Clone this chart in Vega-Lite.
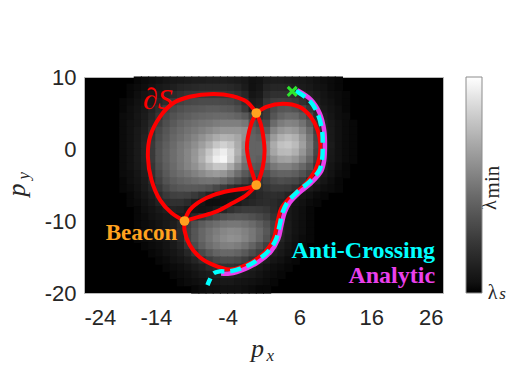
{
"$schema": "https://vega.github.io/schema/vega-lite/v6.json",
"width": 359, "height": 216,
"autosize": {"type": "none"},
"padding": {"left": 84, "top": 77, "right": 72, "bottom": 94},
"background": "white",
"config": {
  "view": {"fill": "black", "stroke": "#b8b8b8", "strokeWidth": 1},
  "axis": {"labelFont": "Liberation Sans", "labelFontSize": 22, "labelColor": "#262626", "domain": false, "ticks": false, "grid": false, "title": null}
},
"datasets": {
  "heat": [
{"x":-16.5,"y":9.5,"v":0.02},{"x":-15.5,"y":9.5,"v":0.03},{"x":-14.5,"y":9.5,"v":0.04},{"x":-13.5,"y":9.5,"v":0.05},{"x":-12.5,"y":9.5,"v":0.07},{"x":-11.5,"y":9.5,"v":0.08},{"x":-10.5,"y":9.5,"v":0.09},{"x":-9.5,"y":9.5,"v":0.1},{"x":-8.5,"y":9.5,"v":0.11},{"x":-7.5,"y":9.5,"v":0.11},{"x":-6.5,"y":9.5,"v":0.12},{"x":-5.5,"y":9.5,"v":0.12},{"x":-4.5,"y":9.5,"v":0.12},{"x":-3.5,"y":9.5,"v":0.11},{"x":-2.5,"y":9.5,"v":0.1},{"x":-1.5,"y":9.5,"v":0.08},{"x":-0.5,"y":9.5,"v":0.05},{"x":0.5,"y":9.5,"v":0.06},{"x":1.5,"y":9.5,"v":0.1},{"x":2.5,"y":9.5,"v":0.11},{"x":3.5,"y":9.5,"v":0.11},{"x":4.5,"y":9.5,"v":0.1},{"x":5.5,"y":9.5,"v":0.09},{"x":6.5,"y":9.5,"v":0.08},{"x":7.5,"y":9.5,"v":0.07},{"x":8.5,"y":9.5,"v":0.05},{"x":9.5,"y":9.5,"v":0.04},{"x":10.5,"y":9.5,"v":0.03},{"x":11.5,"y":9.5,"v":0.02},
{"x":-17.5,"y":8.5,"v":0.02},{"x":-16.5,"y":8.5,"v":0.03},{"x":-15.5,"y":8.5,"v":0.04},{"x":-14.5,"y":8.5,"v":0.06},{"x":-13.5,"y":8.5,"v":0.08},{"x":-12.5,"y":8.5,"v":0.1},{"x":-11.5,"y":8.5,"v":0.12},{"x":-10.5,"y":8.5,"v":0.14},{"x":-9.5,"y":8.5,"v":0.15},{"x":-8.5,"y":8.5,"v":0.16},{"x":-7.5,"y":8.5,"v":0.17},{"x":-6.5,"y":8.5,"v":0.17},{"x":-5.5,"y":8.5,"v":0.17},{"x":-4.5,"y":8.5,"v":0.17},{"x":-3.5,"y":8.5,"v":0.16},{"x":-2.5,"y":8.5,"v":0.14},{"x":-1.5,"y":8.5,"v":0.1},{"x":-0.5,"y":8.5,"v":0.05},{"x":0.5,"y":8.5,"v":0.07},{"x":1.5,"y":8.5,"v":0.13},{"x":2.5,"y":8.5,"v":0.15},{"x":3.5,"y":8.5,"v":0.15},{"x":4.5,"y":8.5,"v":0.14},{"x":5.5,"y":8.5,"v":0.12},{"x":6.5,"y":8.5,"v":0.1},{"x":7.5,"y":8.5,"v":0.08},{"x":8.5,"y":8.5,"v":0.06},{"x":9.5,"y":8.5,"v":0.05},{"x":10.5,"y":8.5,"v":0.03},{"x":11.5,"y":8.5,"v":0.02},
{"x":-17.5,"y":7.5,"v":0.02},{"x":-16.5,"y":7.5,"v":0.04},{"x":-15.5,"y":7.5,"v":0.06},{"x":-14.5,"y":7.5,"v":0.08},{"x":-13.5,"y":7.5,"v":0.11},{"x":-12.5,"y":7.5,"v":0.14},{"x":-11.5,"y":7.5,"v":0.17},{"x":-10.5,"y":7.5,"v":0.2},{"x":-9.5,"y":7.5,"v":0.22},{"x":-8.5,"y":7.5,"v":0.23},{"x":-7.5,"y":7.5,"v":0.24},{"x":-6.5,"y":7.5,"v":0.24},{"x":-5.5,"y":7.5,"v":0.24},{"x":-4.5,"y":7.5,"v":0.23},{"x":-3.5,"y":7.5,"v":0.22},{"x":-2.5,"y":7.5,"v":0.2},{"x":-1.5,"y":7.5,"v":0.15},{"x":-0.5,"y":7.5,"v":0.07},{"x":0.5,"y":7.5,"v":0.09},{"x":1.5,"y":7.5,"v":0.17},{"x":2.5,"y":7.5,"v":0.2},{"x":3.5,"y":7.5,"v":0.2},{"x":4.5,"y":7.5,"v":0.2},{"x":5.5,"y":7.5,"v":0.18},{"x":6.5,"y":7.5,"v":0.15},{"x":7.5,"y":7.5,"v":0.12},{"x":8.5,"y":7.5,"v":0.09},{"x":9.5,"y":7.5,"v":0.06},{"x":10.5,"y":7.5,"v":0.04},{"x":11.5,"y":7.5,"v":0.03},{"x":12.5,"y":7.5,"v":0.02},
{"x":-18.5,"y":6.5,"v":0.02},{"x":-17.5,"y":6.5,"v":0.03},{"x":-16.5,"y":6.5,"v":0.05},{"x":-15.5,"y":6.5,"v":0.07},{"x":-14.5,"y":6.5,"v":0.1},{"x":-13.5,"y":6.5,"v":0.14},{"x":-12.5,"y":6.5,"v":0.18},{"x":-11.5,"y":6.5,"v":0.24},{"x":-10.5,"y":6.5,"v":0.28},{"x":-9.5,"y":6.5,"v":0.3},{"x":-8.5,"y":6.5,"v":0.31},{"x":-7.5,"y":6.5,"v":0.32},{"x":-6.5,"y":6.5,"v":0.32},{"x":-5.5,"y":6.5,"v":0.32},{"x":-4.5,"y":6.5,"v":0.31},{"x":-3.5,"y":6.5,"v":0.3},{"x":-2.5,"y":6.5,"v":0.27},{"x":-1.5,"y":6.5,"v":0.2},{"x":-0.5,"y":6.5,"v":0.1},{"x":0.5,"y":6.5,"v":0.12},{"x":1.5,"y":6.5,"v":0.22},{"x":2.5,"y":6.5,"v":0.26},{"x":3.5,"y":6.5,"v":0.27},{"x":4.5,"y":6.5,"v":0.26},{"x":5.5,"y":6.5,"v":0.24},{"x":6.5,"y":6.5,"v":0.2},{"x":7.5,"y":6.5,"v":0.15},{"x":8.5,"y":6.5,"v":0.11},{"x":9.5,"y":6.5,"v":0.07},{"x":10.5,"y":6.5,"v":0.05},{"x":11.5,"y":6.5,"v":0.03},{"x":12.5,"y":6.5,"v":0.02},
{"x":-18.5,"y":5.5,"v":0.02},{"x":-17.5,"y":5.5,"v":0.04},{"x":-16.5,"y":5.5,"v":0.06},{"x":-15.5,"y":5.5,"v":0.09},{"x":-14.5,"y":5.5,"v":0.13},{"x":-13.5,"y":5.5,"v":0.19},{"x":-12.5,"y":5.5,"v":0.27},{"x":-11.5,"y":5.5,"v":0.31},{"x":-10.5,"y":5.5,"v":0.34},{"x":-9.5,"y":5.5,"v":0.36},{"x":-8.5,"y":5.5,"v":0.37},{"x":-7.5,"y":5.5,"v":0.38},{"x":-6.5,"y":5.5,"v":0.39},{"x":-5.5,"y":5.5,"v":0.39},{"x":-4.5,"y":5.5,"v":0.38},{"x":-3.5,"y":5.5,"v":0.37},{"x":-2.5,"y":5.5,"v":0.33},{"x":-1.5,"y":5.5,"v":0.25},{"x":-0.5,"y":5.5,"v":0.12},{"x":0.5,"y":5.5,"v":0.14},{"x":1.5,"y":5.5,"v":0.24},{"x":2.5,"y":5.5,"v":0.32},{"x":3.5,"y":5.5,"v":0.36},{"x":4.5,"y":5.5,"v":0.37},{"x":5.5,"y":5.5,"v":0.35},{"x":6.5,"y":5.5,"v":0.3},{"x":7.5,"y":5.5,"v":0.22},{"x":8.5,"y":5.5,"v":0.14},{"x":9.5,"y":5.5,"v":0.09},{"x":10.5,"y":5.5,"v":0.06},{"x":11.5,"y":5.5,"v":0.04},{"x":12.5,"y":5.5,"v":0.02},
{"x":-18.5,"y":4.5,"v":0.03},{"x":-17.5,"y":4.5,"v":0.04},{"x":-16.5,"y":4.5,"v":0.07},{"x":-15.5,"y":4.5,"v":0.1},{"x":-14.5,"y":4.5,"v":0.15},{"x":-13.5,"y":4.5,"v":0.22},{"x":-12.5,"y":4.5,"v":0.3},{"x":-11.5,"y":4.5,"v":0.35},{"x":-10.5,"y":4.5,"v":0.38},{"x":-9.5,"y":4.5,"v":0.4},{"x":-8.5,"y":4.5,"v":0.42},{"x":-7.5,"y":4.5,"v":0.43},{"x":-6.5,"y":4.5,"v":0.44},{"x":-5.5,"y":4.5,"v":0.45},{"x":-4.5,"y":4.5,"v":0.45},{"x":-3.5,"y":4.5,"v":0.44},{"x":-2.5,"y":4.5,"v":0.42},{"x":-1.5,"y":4.5,"v":0.38},{"x":-0.5,"y":4.5,"v":0.28},{"x":0.5,"y":4.5,"v":0.2},{"x":1.5,"y":4.5,"v":0.25},{"x":2.5,"y":4.5,"v":0.36},{"x":3.5,"y":4.5,"v":0.42},{"x":4.5,"y":4.5,"v":0.45},{"x":5.5,"y":4.5,"v":0.44},{"x":6.5,"y":4.5,"v":0.38},{"x":7.5,"y":4.5,"v":0.3},{"x":8.5,"y":4.5,"v":0.18},{"x":9.5,"y":4.5,"v":0.11},{"x":10.5,"y":4.5,"v":0.07},{"x":11.5,"y":4.5,"v":0.04},{"x":12.5,"y":4.5,"v":0.03},
{"x":-18.5,"y":3.5,"v":0.03},{"x":-17.5,"y":3.5,"v":0.05},{"x":-16.5,"y":3.5,"v":0.07},{"x":-15.5,"y":3.5,"v":0.11},{"x":-14.5,"y":3.5,"v":0.17},{"x":-13.5,"y":3.5,"v":0.26},{"x":-12.5,"y":3.5,"v":0.33},{"x":-11.5,"y":3.5,"v":0.38},{"x":-10.5,"y":3.5,"v":0.42},{"x":-9.5,"y":3.5,"v":0.45},{"x":-8.5,"y":3.5,"v":0.47},{"x":-7.5,"y":3.5,"v":0.49},{"x":-6.5,"y":3.5,"v":0.5},{"x":-5.5,"y":3.5,"v":0.52},{"x":-4.5,"y":3.5,"v":0.53},{"x":-3.5,"y":3.5,"v":0.53},{"x":-2.5,"y":3.5,"v":0.53},{"x":-1.5,"y":3.5,"v":0.5},{"x":-0.5,"y":3.5,"v":0.35},{"x":0.5,"y":3.5,"v":0.3},{"x":1.5,"y":3.5,"v":0.32},{"x":2.5,"y":3.5,"v":0.45},{"x":3.5,"y":3.5,"v":0.52},{"x":4.5,"y":3.5,"v":0.55},{"x":5.5,"y":3.5,"v":0.54},{"x":6.5,"y":3.5,"v":0.48},{"x":7.5,"y":3.5,"v":0.38},{"x":8.5,"y":3.5,"v":0.22},{"x":9.5,"y":3.5,"v":0.13},{"x":10.5,"y":3.5,"v":0.08},{"x":11.5,"y":3.5,"v":0.05},{"x":12.5,"y":3.5,"v":0.03},{"x":13.5,"y":3.5,"v":0.02},
{"x":-18.5,"y":2.5,"v":0.03},{"x":-17.5,"y":2.5,"v":0.05},{"x":-16.5,"y":2.5,"v":0.08},{"x":-15.5,"y":2.5,"v":0.12},{"x":-14.5,"y":2.5,"v":0.2},{"x":-13.5,"y":2.5,"v":0.3},{"x":-12.5,"y":2.5,"v":0.36},{"x":-11.5,"y":2.5,"v":0.41},{"x":-10.5,"y":2.5,"v":0.45},{"x":-9.5,"y":2.5,"v":0.48},{"x":-8.5,"y":2.5,"v":0.51},{"x":-7.5,"y":2.5,"v":0.54},{"x":-6.5,"y":2.5,"v":0.57},{"x":-5.5,"y":2.5,"v":0.6},{"x":-4.5,"y":2.5,"v":0.62},{"x":-3.5,"y":2.5,"v":0.62},{"x":-2.5,"y":2.5,"v":0.62},{"x":-1.5,"y":2.5,"v":0.6},{"x":-0.5,"y":2.5,"v":0.4},{"x":0.5,"y":2.5,"v":0.36},{"x":1.5,"y":2.5,"v":0.4},{"x":2.5,"y":2.5,"v":0.55},{"x":3.5,"y":2.5,"v":0.62},{"x":4.5,"y":2.5,"v":0.65},{"x":5.5,"y":2.5,"v":0.63},{"x":6.5,"y":2.5,"v":0.56},{"x":7.5,"y":2.5,"v":0.45},{"x":8.5,"y":2.5,"v":0.27},{"x":9.5,"y":2.5,"v":0.15},{"x":10.5,"y":2.5,"v":0.09},{"x":11.5,"y":2.5,"v":0.05},{"x":12.5,"y":2.5,"v":0.03},{"x":13.5,"y":2.5,"v":0.02},
{"x":-18.5,"y":1.5,"v":0.03},{"x":-17.5,"y":1.5,"v":0.05},{"x":-16.5,"y":1.5,"v":0.08},{"x":-15.5,"y":1.5,"v":0.13},{"x":-14.5,"y":1.5,"v":0.22},{"x":-13.5,"y":1.5,"v":0.32},{"x":-12.5,"y":1.5,"v":0.38},{"x":-11.5,"y":1.5,"v":0.43},{"x":-10.5,"y":1.5,"v":0.47},{"x":-9.5,"y":1.5,"v":0.51},{"x":-8.5,"y":1.5,"v":0.55},{"x":-7.5,"y":1.5,"v":0.6},{"x":-6.5,"y":1.5,"v":0.65},{"x":-5.5,"y":1.5,"v":0.7},{"x":-4.5,"y":1.5,"v":0.73},{"x":-3.5,"y":1.5,"v":0.72},{"x":-2.5,"y":1.5,"v":0.68},{"x":-1.5,"y":1.5,"v":0.6},{"x":-0.5,"y":1.5,"v":0.42},{"x":0.5,"y":1.5,"v":0.4},{"x":1.5,"y":1.5,"v":0.5},{"x":2.5,"y":1.5,"v":0.64},{"x":3.5,"y":1.5,"v":0.72},{"x":4.5,"y":1.5,"v":0.75},{"x":5.5,"y":1.5,"v":0.72},{"x":6.5,"y":1.5,"v":0.63},{"x":7.5,"y":1.5,"v":0.5},{"x":8.5,"y":1.5,"v":0.3},{"x":9.5,"y":1.5,"v":0.16},{"x":10.5,"y":1.5,"v":0.09},{"x":11.5,"y":1.5,"v":0.05},{"x":12.5,"y":1.5,"v":0.03},{"x":13.5,"y":1.5,"v":0.02},
{"x":-18.5,"y":0.5,"v":0.03},{"x":-17.5,"y":0.5,"v":0.05},{"x":-16.5,"y":0.5,"v":0.09},{"x":-15.5,"y":0.5,"v":0.14},{"x":-14.5,"y":0.5,"v":0.24},{"x":-13.5,"y":0.5,"v":0.34},{"x":-12.5,"y":0.5,"v":0.4},{"x":-11.5,"y":0.5,"v":0.45},{"x":-10.5,"y":0.5,"v":0.5},{"x":-9.5,"y":0.5,"v":0.54},{"x":-8.5,"y":0.5,"v":0.59},{"x":-7.5,"y":0.5,"v":0.65},{"x":-6.5,"y":0.5,"v":0.72},{"x":-5.5,"y":0.5,"v":0.8},{"x":-4.5,"y":0.5,"v":0.84},{"x":-3.5,"y":0.5,"v":0.8},{"x":-2.5,"y":0.5,"v":0.7},{"x":-1.5,"y":0.5,"v":0.58},{"x":-0.5,"y":0.5,"v":0.42},{"x":0.5,"y":0.5,"v":0.42},{"x":1.5,"y":0.5,"v":0.55},{"x":2.5,"y":0.5,"v":0.7},{"x":3.5,"y":0.5,"v":0.78},{"x":4.5,"y":0.5,"v":0.8},{"x":5.5,"y":0.5,"v":0.76},{"x":6.5,"y":0.5,"v":0.66},{"x":7.5,"y":0.5,"v":0.52},{"x":8.5,"y":0.5,"v":0.32},{"x":9.5,"y":0.5,"v":0.17},{"x":10.5,"y":0.5,"v":0.1},{"x":11.5,"y":0.5,"v":0.05},{"x":12.5,"y":0.5,"v":0.03},{"x":13.5,"y":0.5,"v":0.02},
{"x":-18.5,"y":-0.5,"v":0.03},{"x":-17.5,"y":-0.5,"v":0.05},{"x":-16.5,"y":-0.5,"v":0.09},{"x":-15.5,"y":-0.5,"v":0.14},{"x":-14.5,"y":-0.5,"v":0.24},{"x":-13.5,"y":-0.5,"v":0.35},{"x":-12.5,"y":-0.5,"v":0.41},{"x":-11.5,"y":-0.5,"v":0.46},{"x":-10.5,"y":-0.5,"v":0.51},{"x":-9.5,"y":-0.5,"v":0.56},{"x":-8.5,"y":-0.5,"v":0.62},{"x":-7.5,"y":-0.5,"v":0.7},{"x":-6.5,"y":-0.5,"v":0.8},{"x":-5.5,"y":-0.5,"v":0.9},{"x":-4.5,"y":-0.5,"v":0.94},{"x":-3.5,"y":-0.5,"v":0.86},{"x":-2.5,"y":-0.5,"v":0.72},{"x":-1.5,"y":-0.5,"v":0.56},{"x":-0.5,"y":-0.5,"v":0.42},{"x":0.5,"y":-0.5,"v":0.42},{"x":1.5,"y":-0.5,"v":0.55},{"x":2.5,"y":-0.5,"v":0.68},{"x":3.5,"y":-0.5,"v":0.75},{"x":4.5,"y":-0.5,"v":0.76},{"x":5.5,"y":-0.5,"v":0.72},{"x":6.5,"y":-0.5,"v":0.62},{"x":7.5,"y":-0.5,"v":0.5},{"x":8.5,"y":-0.5,"v":0.3},{"x":9.5,"y":-0.5,"v":0.16},{"x":10.5,"y":-0.5,"v":0.09},{"x":11.5,"y":-0.5,"v":0.05},{"x":12.5,"y":-0.5,"v":0.03},{"x":13.5,"y":-0.5,"v":0.02},
{"x":-18.5,"y":-1.5,"v":0.03},{"x":-17.5,"y":-1.5,"v":0.05},{"x":-16.5,"y":-1.5,"v":0.09},{"x":-15.5,"y":-1.5,"v":0.14},{"x":-14.5,"y":-1.5,"v":0.24},{"x":-13.5,"y":-1.5,"v":0.35},{"x":-12.5,"y":-1.5,"v":0.41},{"x":-11.5,"y":-1.5,"v":0.46},{"x":-10.5,"y":-1.5,"v":0.51},{"x":-9.5,"y":-1.5,"v":0.56},{"x":-8.5,"y":-1.5,"v":0.63},{"x":-7.5,"y":-1.5,"v":0.72},{"x":-6.5,"y":-1.5,"v":0.83},{"x":-5.5,"y":-1.5,"v":0.94},{"x":-4.5,"y":-1.5,"v":0.97},{"x":-3.5,"y":-1.5,"v":0.85},{"x":-2.5,"y":-1.5,"v":0.68},{"x":-1.5,"y":-1.5,"v":0.52},{"x":-0.5,"y":-1.5,"v":0.42},{"x":0.5,"y":-1.5,"v":0.4},{"x":1.5,"y":-1.5,"v":0.5},{"x":2.5,"y":-1.5,"v":0.6},{"x":3.5,"y":-1.5,"v":0.66},{"x":4.5,"y":-1.5,"v":0.67},{"x":5.5,"y":-1.5,"v":0.63},{"x":6.5,"y":-1.5,"v":0.55},{"x":7.5,"y":-1.5,"v":0.44},{"x":8.5,"y":-1.5,"v":0.27},{"x":9.5,"y":-1.5,"v":0.14},{"x":10.5,"y":-1.5,"v":0.08},{"x":11.5,"y":-1.5,"v":0.05},{"x":12.5,"y":-1.5,"v":0.03},{"x":13.5,"y":-1.5,"v":0.02},
{"x":-18.5,"y":-2.5,"v":0.03},{"x":-17.5,"y":-2.5,"v":0.05},{"x":-16.5,"y":-2.5,"v":0.08},{"x":-15.5,"y":-2.5,"v":0.13},{"x":-14.5,"y":-2.5,"v":0.22},{"x":-13.5,"y":-2.5,"v":0.33},{"x":-12.5,"y":-2.5,"v":0.4},{"x":-11.5,"y":-2.5,"v":0.45},{"x":-10.5,"y":-2.5,"v":0.5},{"x":-9.5,"y":-2.5,"v":0.55},{"x":-8.5,"y":-2.5,"v":0.6},{"x":-7.5,"y":-2.5,"v":0.67},{"x":-6.5,"y":-2.5,"v":0.74},{"x":-5.5,"y":-2.5,"v":0.8},{"x":-4.5,"y":-2.5,"v":0.8},{"x":-3.5,"y":-2.5,"v":0.7},{"x":-2.5,"y":-2.5,"v":0.58},{"x":-1.5,"y":-2.5,"v":0.46},{"x":-0.5,"y":-2.5,"v":0.38},{"x":0.5,"y":-2.5,"v":0.36},{"x":1.5,"y":-2.5,"v":0.42},{"x":2.5,"y":-2.5,"v":0.5},{"x":3.5,"y":-2.5,"v":0.54},{"x":4.5,"y":-2.5,"v":0.54},{"x":5.5,"y":-2.5,"v":0.5},{"x":6.5,"y":-2.5,"v":0.44},{"x":7.5,"y":-2.5,"v":0.36},{"x":8.5,"y":-2.5,"v":0.22},{"x":9.5,"y":-2.5,"v":0.12},{"x":10.5,"y":-2.5,"v":0.07},{"x":11.5,"y":-2.5,"v":0.04},{"x":12.5,"y":-2.5,"v":0.02},
{"x":-18.5,"y":-3.5,"v":0.03},{"x":-17.5,"y":-3.5,"v":0.04},{"x":-16.5,"y":-3.5,"v":0.07},{"x":-15.5,"y":-3.5,"v":0.12},{"x":-14.5,"y":-3.5,"v":0.2},{"x":-13.5,"y":-3.5,"v":0.3},{"x":-12.5,"y":-3.5,"v":0.38},{"x":-11.5,"y":-3.5,"v":0.43},{"x":-10.5,"y":-3.5,"v":0.47},{"x":-9.5,"y":-3.5,"v":0.5},{"x":-8.5,"y":-3.5,"v":0.54},{"x":-7.5,"y":-3.5,"v":0.58},{"x":-6.5,"y":-3.5,"v":0.62},{"x":-5.5,"y":-3.5,"v":0.64},{"x":-4.5,"y":-3.5,"v":0.62},{"x":-3.5,"y":-3.5,"v":0.55},{"x":-2.5,"y":-3.5,"v":0.46},{"x":-1.5,"y":-3.5,"v":0.38},{"x":-0.5,"y":-3.5,"v":0.32},{"x":0.5,"y":-3.5,"v":0.3},{"x":1.5,"y":-3.5,"v":0.34},{"x":2.5,"y":-3.5,"v":0.4},{"x":3.5,"y":-3.5,"v":0.42},{"x":4.5,"y":-3.5,"v":0.42},{"x":5.5,"y":-3.5,"v":0.4},{"x":6.5,"y":-3.5,"v":0.35},{"x":7.5,"y":-3.5,"v":0.28},{"x":8.5,"y":-3.5,"v":0.17},{"x":9.5,"y":-3.5,"v":0.1},{"x":10.5,"y":-3.5,"v":0.06},{"x":11.5,"y":-3.5,"v":0.03},{"x":12.5,"y":-3.5,"v":0.02},
{"x":-18.5,"y":-4.5,"v":0.02},{"x":-17.5,"y":-4.5,"v":0.04},{"x":-16.5,"y":-4.5,"v":0.06},{"x":-15.5,"y":-4.5,"v":0.1},{"x":-14.5,"y":-4.5,"v":0.17},{"x":-13.5,"y":-4.5,"v":0.27},{"x":-12.5,"y":-4.5,"v":0.35},{"x":-11.5,"y":-4.5,"v":0.39},{"x":-10.5,"y":-4.5,"v":0.42},{"x":-9.5,"y":-4.5,"v":0.44},{"x":-8.5,"y":-4.5,"v":0.46},{"x":-7.5,"y":-4.5,"v":0.48},{"x":-6.5,"y":-4.5,"v":0.49},{"x":-5.5,"y":-4.5,"v":0.48},{"x":-4.5,"y":-4.5,"v":0.45},{"x":-3.5,"y":-4.5,"v":0.4},{"x":-2.5,"y":-4.5,"v":0.34},{"x":-1.5,"y":-4.5,"v":0.28},{"x":-0.5,"y":-4.5,"v":0.22},{"x":0.5,"y":-4.5,"v":0.22},{"x":1.5,"y":-4.5,"v":0.27},{"x":2.5,"y":-4.5,"v":0.31},{"x":3.5,"y":-4.5,"v":0.33},{"x":4.5,"y":-4.5,"v":0.32},{"x":5.5,"y":-4.5,"v":0.3},{"x":6.5,"y":-4.5,"v":0.25},{"x":7.5,"y":-4.5,"v":0.18},{"x":8.5,"y":-4.5,"v":0.11},{"x":9.5,"y":-4.5,"v":0.07},{"x":10.5,"y":-4.5,"v":0.04},{"x":11.5,"y":-4.5,"v":0.02},
{"x":-18.5,"y":-5.5,"v":0.02},{"x":-17.5,"y":-5.5,"v":0.03},{"x":-16.5,"y":-5.5,"v":0.05},{"x":-15.5,"y":-5.5,"v":0.09},{"x":-14.5,"y":-5.5,"v":0.14},{"x":-13.5,"y":-5.5,"v":0.23},{"x":-12.5,"y":-5.5,"v":0.3},{"x":-11.5,"y":-5.5,"v":0.35},{"x":-10.5,"y":-5.5,"v":0.37},{"x":-9.5,"y":-5.5,"v":0.38},{"x":-8.5,"y":-5.5,"v":0.38},{"x":-7.5,"y":-5.5,"v":0.37},{"x":-6.5,"y":-5.5,"v":0.35},{"x":-5.5,"y":-5.5,"v":0.3},{"x":-4.5,"y":-5.5,"v":0.25},{"x":-3.5,"y":-5.5,"v":0.2},{"x":-2.5,"y":-5.5,"v":0.16},{"x":-1.5,"y":-5.5,"v":0.14},{"x":-0.5,"y":-5.5,"v":0.15},{"x":0.5,"y":-5.5,"v":0.18},{"x":1.5,"y":-5.5,"v":0.22},{"x":2.5,"y":-5.5,"v":0.25},{"x":3.5,"y":-5.5,"v":0.25},{"x":4.5,"y":-5.5,"v":0.24},{"x":5.5,"y":-5.5,"v":0.2},{"x":6.5,"y":-5.5,"v":0.15},{"x":7.5,"y":-5.5,"v":0.1},{"x":8.5,"y":-5.5,"v":0.07},{"x":9.5,"y":-5.5,"v":0.04},{"x":10.5,"y":-5.5,"v":0.03},{"x":11.5,"y":-5.5,"v":0.02},
{"x":-17.5,"y":-6.5,"v":0.02},{"x":-16.5,"y":-6.5,"v":0.04},{"x":-15.5,"y":-6.5,"v":0.07},{"x":-14.5,"y":-6.5,"v":0.11},{"x":-13.5,"y":-6.5,"v":0.18},{"x":-12.5,"y":-6.5,"v":0.24},{"x":-11.5,"y":-6.5,"v":0.27},{"x":-10.5,"y":-6.5,"v":0.28},{"x":-9.5,"y":-6.5,"v":0.27},{"x":-8.5,"y":-6.5,"v":0.24},{"x":-7.5,"y":-6.5,"v":0.2},{"x":-6.5,"y":-6.5,"v":0.14},{"x":-5.5,"y":-6.5,"v":0.08},{"x":-4.5,"y":-6.5,"v":0.06},{"x":-3.5,"y":-6.5,"v":0.06},{"x":-2.5,"y":-6.5,"v":0.07},{"x":-1.5,"y":-6.5,"v":0.1},{"x":-0.5,"y":-6.5,"v":0.13},{"x":0.5,"y":-6.5,"v":0.16},{"x":1.5,"y":-6.5,"v":0.18},{"x":2.5,"y":-6.5,"v":0.19},{"x":3.5,"y":-6.5,"v":0.18},{"x":4.5,"y":-6.5,"v":0.14},{"x":5.5,"y":-6.5,"v":0.1},{"x":6.5,"y":-6.5,"v":0.07},{"x":7.5,"y":-6.5,"v":0.05},{"x":8.5,"y":-6.5,"v":0.03},{"x":9.5,"y":-6.5,"v":0.02},
{"x":-17.5,"y":-7.5,"v":0.02},{"x":-16.5,"y":-7.5,"v":0.03},{"x":-15.5,"y":-7.5,"v":0.05},{"x":-14.5,"y":-7.5,"v":0.08},{"x":-13.5,"y":-7.5,"v":0.13},{"x":-12.5,"y":-7.5,"v":0.18},{"x":-11.5,"y":-7.5,"v":0.2},{"x":-10.5,"y":-7.5,"v":0.2},{"x":-9.5,"y":-7.5,"v":0.17},{"x":-8.5,"y":-7.5,"v":0.12},{"x":-7.5,"y":-7.5,"v":0.07},{"x":-6.5,"y":-7.5,"v":0.04},{"x":-5.5,"y":-7.5,"v":0.04},{"x":-4.5,"y":-7.5,"v":0.05},{"x":-3.5,"y":-7.5,"v":0.07},{"x":-2.5,"y":-7.5,"v":0.1},{"x":-1.5,"y":-7.5,"v":0.13},{"x":-0.5,"y":-7.5,"v":0.15},{"x":0.5,"y":-7.5,"v":0.17},{"x":1.5,"y":-7.5,"v":0.18},{"x":2.5,"y":-7.5,"v":0.17},{"x":3.5,"y":-7.5,"v":0.14},{"x":4.5,"y":-7.5,"v":0.1},{"x":5.5,"y":-7.5,"v":0.07},{"x":6.5,"y":-7.5,"v":0.05},{"x":7.5,"y":-7.5,"v":0.03},{"x":8.5,"y":-7.5,"v":0.02},
{"x":-16.5,"y":-8.5,"v":0.02},{"x":-15.5,"y":-8.5,"v":0.04},{"x":-14.5,"y":-8.5,"v":0.06},{"x":-13.5,"y":-8.5,"v":0.09},{"x":-12.5,"y":-8.5,"v":0.12},{"x":-11.5,"y":-8.5,"v":0.14},{"x":-10.5,"y":-8.5,"v":0.13},{"x":-9.5,"y":-8.5,"v":0.1},{"x":-8.5,"y":-8.5,"v":0.07},{"x":-7.5,"y":-8.5,"v":0.06},{"x":-6.5,"y":-8.5,"v":0.07},{"x":-5.5,"y":-8.5,"v":0.1},{"x":-4.5,"y":-8.5,"v":0.15},{"x":-3.5,"y":-8.5,"v":0.2},{"x":-2.5,"y":-8.5,"v":0.23},{"x":-1.5,"y":-8.5,"v":0.25},{"x":-0.5,"y":-8.5,"v":0.25},{"x":0.5,"y":-8.5,"v":0.24},{"x":1.5,"y":-8.5,"v":0.22},{"x":2.5,"y":-8.5,"v":0.18},{"x":3.5,"y":-8.5,"v":0.13},{"x":4.5,"y":-8.5,"v":0.09},{"x":5.5,"y":-8.5,"v":0.06},{"x":6.5,"y":-8.5,"v":0.04},{"x":7.5,"y":-8.5,"v":0.02},
{"x":-16.5,"y":-9.5,"v":0.02},{"x":-15.5,"y":-9.5,"v":0.03},{"x":-14.5,"y":-9.5,"v":0.05},{"x":-13.5,"y":-9.5,"v":0.07},{"x":-12.5,"y":-9.5,"v":0.09},{"x":-11.5,"y":-9.5,"v":0.1},{"x":-10.5,"y":-9.5,"v":0.1},{"x":-9.5,"y":-9.5,"v":0.12},{"x":-8.5,"y":-9.5,"v":0.16},{"x":-7.5,"y":-9.5,"v":0.22},{"x":-6.5,"y":-9.5,"v":0.27},{"x":-5.5,"y":-9.5,"v":0.31},{"x":-4.5,"y":-9.5,"v":0.34},{"x":-3.5,"y":-9.5,"v":0.36},{"x":-2.5,"y":-9.5,"v":0.37},{"x":-1.5,"y":-9.5,"v":0.36},{"x":-0.5,"y":-9.5,"v":0.34},{"x":0.5,"y":-9.5,"v":0.31},{"x":1.5,"y":-9.5,"v":0.27},{"x":2.5,"y":-9.5,"v":0.21},{"x":3.5,"y":-9.5,"v":0.14},{"x":4.5,"y":-9.5,"v":0.09},{"x":5.5,"y":-9.5,"v":0.06},{"x":6.5,"y":-9.5,"v":0.04},{"x":7.5,"y":-9.5,"v":0.02},
{"x":-16.5,"y":-10.5,"v":0.02},{"x":-15.5,"y":-10.5,"v":0.03},{"x":-14.5,"y":-10.5,"v":0.04},{"x":-13.5,"y":-10.5,"v":0.06},{"x":-12.5,"y":-10.5,"v":0.08},{"x":-11.5,"y":-10.5,"v":0.11},{"x":-10.5,"y":-10.5,"v":0.16},{"x":-9.5,"y":-10.5,"v":0.26},{"x":-8.5,"y":-10.5,"v":0.33},{"x":-7.5,"y":-10.5,"v":0.39},{"x":-6.5,"y":-10.5,"v":0.43},{"x":-5.5,"y":-10.5,"v":0.46},{"x":-4.5,"y":-10.5,"v":0.49},{"x":-3.5,"y":-10.5,"v":0.5},{"x":-2.5,"y":-10.5,"v":0.5},{"x":-1.5,"y":-10.5,"v":0.48},{"x":-0.5,"y":-10.5,"v":0.45},{"x":0.5,"y":-10.5,"v":0.4},{"x":1.5,"y":-10.5,"v":0.34},{"x":2.5,"y":-10.5,"v":0.26},{"x":3.5,"y":-10.5,"v":0.16},{"x":4.5,"y":-10.5,"v":0.1},{"x":5.5,"y":-10.5,"v":0.06},{"x":6.5,"y":-10.5,"v":0.04},{"x":7.5,"y":-10.5,"v":0.02},
{"x":-16.5,"y":-11.5,"v":0.02},{"x":-15.5,"y":-11.5,"v":0.03},{"x":-14.5,"y":-11.5,"v":0.04},{"x":-13.5,"y":-11.5,"v":0.06},{"x":-12.5,"y":-11.5,"v":0.08},{"x":-11.5,"y":-11.5,"v":0.11},{"x":-10.5,"y":-11.5,"v":0.17},{"x":-9.5,"y":-11.5,"v":0.28},{"x":-8.5,"y":-11.5,"v":0.36},{"x":-7.5,"y":-11.5,"v":0.43},{"x":-6.5,"y":-11.5,"v":0.48},{"x":-5.5,"y":-11.5,"v":0.52},{"x":-4.5,"y":-11.5,"v":0.56},{"x":-3.5,"y":-11.5,"v":0.58},{"x":-2.5,"y":-11.5,"v":0.57},{"x":-1.5,"y":-11.5,"v":0.54},{"x":-0.5,"y":-11.5,"v":0.5},{"x":0.5,"y":-11.5,"v":0.44},{"x":1.5,"y":-11.5,"v":0.37},{"x":2.5,"y":-11.5,"v":0.28},{"x":3.5,"y":-11.5,"v":0.16},{"x":4.5,"y":-11.5,"v":0.1},{"x":5.5,"y":-11.5,"v":0.06},{"x":6.5,"y":-11.5,"v":0.04},{"x":7.5,"y":-11.5,"v":0.02},
{"x":-16.5,"y":-12.5,"v":0.02},{"x":-15.5,"y":-12.5,"v":0.03},{"x":-14.5,"y":-12.5,"v":0.04},{"x":-13.5,"y":-12.5,"v":0.05},{"x":-12.5,"y":-12.5,"v":0.07},{"x":-11.5,"y":-12.5,"v":0.1},{"x":-10.5,"y":-12.5,"v":0.16},{"x":-9.5,"y":-12.5,"v":0.28},{"x":-8.5,"y":-12.5,"v":0.36},{"x":-7.5,"y":-12.5,"v":0.43},{"x":-6.5,"y":-12.5,"v":0.49},{"x":-5.5,"y":-12.5,"v":0.54},{"x":-4.5,"y":-12.5,"v":0.58},{"x":-3.5,"y":-12.5,"v":0.6},{"x":-2.5,"y":-12.5,"v":0.59},{"x":-1.5,"y":-12.5,"v":0.55},{"x":-0.5,"y":-12.5,"v":0.5},{"x":0.5,"y":-12.5,"v":0.43},{"x":1.5,"y":-12.5,"v":0.35},{"x":2.5,"y":-12.5,"v":0.25},{"x":3.5,"y":-12.5,"v":0.14},{"x":4.5,"y":-12.5,"v":0.09},{"x":5.5,"y":-12.5,"v":0.05},{"x":6.5,"y":-12.5,"v":0.03},{"x":7.5,"y":-12.5,"v":0.02},
{"x":-15.5,"y":-13.5,"v":0.02},{"x":-14.5,"y":-13.5,"v":0.03},{"x":-13.5,"y":-13.5,"v":0.04},{"x":-12.5,"y":-13.5,"v":0.06},{"x":-11.5,"y":-13.5,"v":0.09},{"x":-10.5,"y":-13.5,"v":0.13},{"x":-9.5,"y":-13.5,"v":0.22},{"x":-8.5,"y":-13.5,"v":0.32},{"x":-7.5,"y":-13.5,"v":0.4},{"x":-6.5,"y":-13.5,"v":0.46},{"x":-5.5,"y":-13.5,"v":0.5},{"x":-4.5,"y":-13.5,"v":0.53},{"x":-3.5,"y":-13.5,"v":0.54},{"x":-2.5,"y":-13.5,"v":0.52},{"x":-1.5,"y":-13.5,"v":0.48},{"x":-0.5,"y":-13.5,"v":0.42},{"x":0.5,"y":-13.5,"v":0.35},{"x":1.5,"y":-13.5,"v":0.27},{"x":2.5,"y":-13.5,"v":0.18},{"x":3.5,"y":-13.5,"v":0.11},{"x":4.5,"y":-13.5,"v":0.07},{"x":5.5,"y":-13.5,"v":0.04},{"x":6.5,"y":-13.5,"v":0.02},
{"x":-14.5,"y":-14.5,"v":0.02},{"x":-13.5,"y":-14.5,"v":0.03},{"x":-12.5,"y":-14.5,"v":0.05},{"x":-11.5,"y":-14.5,"v":0.07},{"x":-10.5,"y":-14.5,"v":0.1},{"x":-9.5,"y":-14.5,"v":0.15},{"x":-8.5,"y":-14.5,"v":0.23},{"x":-7.5,"y":-14.5,"v":0.31},{"x":-6.5,"y":-14.5,"v":0.37},{"x":-5.5,"y":-14.5,"v":0.42},{"x":-4.5,"y":-14.5,"v":0.44},{"x":-3.5,"y":-14.5,"v":0.44},{"x":-2.5,"y":-14.5,"v":0.42},{"x":-1.5,"y":-14.5,"v":0.38},{"x":-0.5,"y":-14.5,"v":0.32},{"x":0.5,"y":-14.5,"v":0.26},{"x":1.5,"y":-14.5,"v":0.19},{"x":2.5,"y":-14.5,"v":0.12},{"x":3.5,"y":-14.5,"v":0.08},{"x":4.5,"y":-14.5,"v":0.05},{"x":5.5,"y":-14.5,"v":0.03},{"x":6.5,"y":-14.5,"v":0.02},
{"x":-13.5,"y":-15.5,"v":0.02},{"x":-12.5,"y":-15.5,"v":0.03},{"x":-11.5,"y":-15.5,"v":0.05},{"x":-10.5,"y":-15.5,"v":0.07},{"x":-9.5,"y":-15.5,"v":0.1},{"x":-8.5,"y":-15.5,"v":0.14},{"x":-7.5,"y":-15.5,"v":0.2},{"x":-6.5,"y":-15.5,"v":0.26},{"x":-5.5,"y":-15.5,"v":0.3},{"x":-4.5,"y":-15.5,"v":0.32},{"x":-3.5,"y":-15.5,"v":0.32},{"x":-2.5,"y":-15.5,"v":0.3},{"x":-1.5,"y":-15.5,"v":0.26},{"x":-0.5,"y":-15.5,"v":0.21},{"x":0.5,"y":-15.5,"v":0.15},{"x":1.5,"y":-15.5,"v":0.11},{"x":2.5,"y":-15.5,"v":0.07},{"x":3.5,"y":-15.5,"v":0.05},{"x":4.5,"y":-15.5,"v":0.03},{"x":5.5,"y":-15.5,"v":0.02},
{"x":-12.5,"y":-16.5,"v":0.02},{"x":-11.5,"y":-16.5,"v":0.03},{"x":-10.5,"y":-16.5,"v":0.04},{"x":-9.5,"y":-16.5,"v":0.06},{"x":-8.5,"y":-16.5,"v":0.09},{"x":-7.5,"y":-16.5,"v":0.12},{"x":-6.5,"y":-16.5,"v":0.16},{"x":-5.5,"y":-16.5,"v":0.19},{"x":-4.5,"y":-16.5,"v":0.21},{"x":-3.5,"y":-16.5,"v":0.21},{"x":-2.5,"y":-16.5,"v":0.19},{"x":-1.5,"y":-16.5,"v":0.16},{"x":-0.5,"y":-16.5,"v":0.12},{"x":0.5,"y":-16.5,"v":0.09},{"x":1.5,"y":-16.5,"v":0.06},{"x":2.5,"y":-16.5,"v":0.04},{"x":3.5,"y":-16.5,"v":0.03},{"x":4.5,"y":-16.5,"v":0.02},
{"x":-11.5,"y":-17.5,"v":0.02},{"x":-10.5,"y":-17.5,"v":0.03},{"x":-9.5,"y":-17.5,"v":0.04},{"x":-8.5,"y":-17.5,"v":0.06},{"x":-7.5,"y":-17.5,"v":0.08},{"x":-6.5,"y":-17.5,"v":0.1},{"x":-5.5,"y":-17.5,"v":0.12},{"x":-4.5,"y":-17.5,"v":0.13},{"x":-3.5,"y":-17.5,"v":0.13},{"x":-2.5,"y":-17.5,"v":0.12},{"x":-1.5,"y":-17.5,"v":0.1},{"x":-0.5,"y":-17.5,"v":0.08},{"x":0.5,"y":-17.5,"v":0.06},{"x":1.5,"y":-17.5,"v":0.04},{"x":2.5,"y":-17.5,"v":0.03},{"x":3.5,"y":-17.5,"v":0.02},
{"x":-10.5,"y":-18.5,"v":0.02},{"x":-9.5,"y":-18.5,"v":0.03},{"x":-8.5,"y":-18.5,"v":0.04},{"x":-7.5,"y":-18.5,"v":0.05},{"x":-6.5,"y":-18.5,"v":0.06},{"x":-5.5,"y":-18.5,"v":0.07},{"x":-4.5,"y":-18.5,"v":0.08},{"x":-3.5,"y":-18.5,"v":0.08},{"x":-2.5,"y":-18.5,"v":0.07},{"x":-1.5,"y":-18.5,"v":0.06},{"x":-0.5,"y":-18.5,"v":0.05},{"x":0.5,"y":-18.5,"v":0.04},{"x":1.5,"y":-18.5,"v":0.03},{"x":2.5,"y":-18.5,"v":0.02},
{"x":-8.5,"y":-19.5,"v":0.02},{"x":-7.5,"y":-19.5,"v":0.03},{"x":-6.5,"y":-19.5,"v":0.04},{"x":-5.5,"y":-19.5,"v":0.04},{"x":-4.5,"y":-19.5,"v":0.05},{"x":-3.5,"y":-19.5,"v":0.05},{"x":-2.5,"y":-19.5,"v":0.05},{"x":-1.5,"y":-19.5,"v":0.04},{"x":-0.5,"y":-19.5,"v":0.03},{"x":0.5,"y":-19.5,"v":0.02},{"x":1.5,"y":-19.5,"v":0.02}
  ],
  "curves": [
{"s":"A","o":1,"x":0,"y":5},{"s":"A","o":2,"x":-1.4,"y":6.6},{"s":"A","o":3,"x":-3.3,"y":7.35},{"s":"A","o":4,"x":-6,"y":7.65},{"s":"A","o":5,"x":-9.3,"y":7.25},{"s":"A","o":6,"x":-11.6,"y":6.35},{"s":"A","o":7,"x":-13.4,"y":4.5},{"s":"A","o":8,"x":-14.8,"y":1.7},{"s":"A","o":9,"x":-15.1,"y":-1.1},{"s":"A","o":10,"x":-14.6,"y":-4.3},{"s":"A","o":11,"x":-13.4,"y":-7.1},{"s":"A","o":12,"x":-11.8,"y":-8.9},{"s":"A","o":13,"x":-10,"y":-10},
{"s":"B","o":1,"x":-10,"y":-10},{"s":"B","o":2,"x":-10,"y":-11.3},{"s":"B","o":3,"x":-9.3,"y":-13.3},{"s":"B","o":4,"x":-7.9,"y":-15},{"s":"B","o":5,"x":-6,"y":-16.1},{"s":"B","o":6,"x":-3.7,"y":-16.75},{"s":"B","o":7,"x":-1.4,"y":-16.1},{"s":"B","o":8,"x":0.4,"y":-15},{"s":"B","o":9,"x":1.8,"y":-13.6},{"s":"B","o":10,"x":2.5,"y":-12.2},{"s":"B","o":11,"x":3.0,"y":-9.9},{"s":"B","o":12,"x":3.5,"y":-8.2},{"s":"B","o":13,"x":4.6,"y":-6.85},{"s":"B","o":14,"x":6.5,"y":-5.2},{"s":"B","o":15,"x":7.6,"y":-3.9},{"s":"B","o":16,"x":8.3,"y":-2.75},{"s":"B","o":17,"x":8.8,"y":-1.1},{"s":"B","o":18,"x":8.9,"y":0.75},{"s":"B","o":19,"x":8.55,"y":2.6},{"s":"B","o":20,"x":7.6,"y":4.45},{"s":"B","o":21,"x":6,"y":5.85},{"s":"B","o":22,"x":3.7,"y":6.3},{"s":"B","o":23,"x":1.4,"y":5.85},{"s":"B","o":24,"x":0,"y":5},
{"s":"C","o":1,"x":0,"y":5},{"s":"C","o":2,"x":-0.7,"y":3.5},{"s":"C","o":3,"x":-1.2,"y":1.5},{"s":"C","o":4,"x":-1.3,"y":0},{"s":"C","o":5,"x":-1.0,"y":-1.8},{"s":"C","o":6,"x":-0.5,"y":-3.5},{"s":"C","o":7,"x":0,"y":-5},
{"s":"D","o":1,"x":0,"y":5},{"s":"D","o":2,"x":0.6,"y":3.5},{"s":"D","o":3,"x":1.0,"y":1.5},{"s":"D","o":4,"x":1.15,"y":-0.3},{"s":"D","o":5,"x":0.9,"y":-2.5},{"s":"D","o":6,"x":0.4,"y":-4.2},{"s":"D","o":7,"x":0,"y":-5},
{"s":"E","o":1,"x":-10,"y":-10},{"s":"E","o":2,"x":-9.3,"y":-8.5},{"s":"E","o":3,"x":-7.9,"y":-7.3},{"s":"E","o":4,"x":-6,"y":-6.4},{"s":"E","o":5,"x":-3.7,"y":-5.8},{"s":"E","o":6,"x":-1.4,"y":-5.45},{"s":"E","o":7,"x":0,"y":-5},
{"s":"F","o":1,"x":-10,"y":-10},{"s":"F","o":2,"x":-7.9,"y":-9.4},{"s":"F","o":3,"x":-5.6,"y":-8.7},{"s":"F","o":4,"x":-3.3,"y":-7.5},{"s":"F","o":5,"x":-1.4,"y":-6.4},{"s":"F","o":6,"x":0,"y":-5}
  ],
  "anti": [
{"o":1,"x":5.5,"y":8.05},{"o":2,"x":7.4,"y":6.75},{"o":3,"x":8.55,"y":4.9},{"o":4,"x":9.15,"y":2.6},{"o":5,"x":9.25,"y":0.75},{"o":6,"x":9.15,"y":-1.55},{"o":7,"x":8.75,"y":-3.0},{"o":8,"x":7.4,"y":-4.55},{"o":9,"x":5.76,"y":-5.9},{"o":10,"x":4.4,"y":-7.3},{"o":11,"x":3.7,"y":-8.7},{"o":12,"x":3.25,"y":-10.55},{"o":13,"x":2.8,"y":-12.4},{"o":14,"x":1.85,"y":-14.0},{"o":15,"x":0.2,"y":-15.4},{"o":16,"x":-1.65,"y":-16.4},{"o":17,"x":-3.7,"y":-17.0},{"o":18,"x":-5.1,"y":-17.0},{"o":19,"x":-6.0,"y":-17.3},{"o":20,"x":-6.5,"y":-18.2},{"o":21,"x":-6.8,"y":-18.9}
  ],
  "analytic": [
{"o":1,"x":5.7,"y":8.15},{"o":2,"x":7.65,"y":6.8},{"o":3,"x":8.85,"y":4.9},{"o":4,"x":9.45,"y":2.6},{"o":5,"x":9.55,"y":0.75},{"o":6,"x":9.45,"y":-1.55},{"o":7,"x":9.05,"y":-3.05},{"o":8,"x":7.65,"y":-4.7},{"o":9,"x":6.0,"y":-6.05},{"o":10,"x":4.65,"y":-7.45},{"o":11,"x":3.95,"y":-8.8},{"o":12,"x":3.5,"y":-10.6},{"o":13,"x":3.05,"y":-12.5},{"o":14,"x":2.05,"y":-14.2},{"o":15,"x":0.35,"y":-15.65},{"o":16,"x":-1.55,"y":-16.65},{"o":17,"x":-3.7,"y":-17.3},{"o":18,"x":-4.9,"y":-17.3}
  ]
},
"resolve": {"scale": {"x": "independent", "y": "independent"}},
"layer": [
  {
    "data": {"name": "heat"},
    "mark": {"type": "rect", "strokeWidth": 0, "width": {"band": 1.15}, "height": {"band": 1.15}},
    "encoding": {
      "x": {"field": "x", "type": "ordinal", "axis": null, "scale": {"type": "band", "paddingInner": 0, "paddingOuter": 0, "domain": [-23.5,-22.5,-21.5,-20.5,-19.5,-18.5,-17.5,-16.5,-15.5,-14.5,-13.5,-12.5,-11.5,-10.5,-9.5,-8.5,-7.5,-6.5,-5.5,-4.5,-3.5,-2.5,-1.5,-0.5,0.5,1.5,2.5,3.5,4.5,5.5,6.5,7.5,8.5,9.5,10.5,11.5,12.5,13.5,14.5,15.5,16.5,17.5,18.5,19.5,20.5,21.5,22.5,23.5,24.5,25.5]}},
      "y": {"field": "y", "type": "ordinal", "axis": null, "scale": {"type": "band", "paddingInner": 0, "paddingOuter": 0, "domain": [9.5,8.5,7.5,6.5,5.5,4.5,3.5,2.5,1.5,0.5,-0.5,-1.5,-2.5,-3.5,-4.5,-5.5,-6.5,-7.5,-8.5,-9.5,-10.5,-11.5,-12.5,-13.5,-14.5,-15.5,-16.5,-17.5,-18.5,-19.5]}},
      "color": {"field": "v", "type": "quantitative", "scale": {"domain": [0, 1], "range": ["#000000", "#ffffff"]},
        "legend": {"type": "gradient", "title": null, "orient": "right", "offset": 23, "direction": "vertical", "gradientLength": 216, "gradientThickness": 16, "labelExpr": "''", "labelOpacity": 0, "gradientStrokeColor": "#8c8c8c", "gradientStrokeWidth": 1, "padding": 0}}
    }
  },
  {
    "layer": [
      {
        "data": {"name": "curves"},
        "mark": {"type": "line", "color": "#ff0000", "strokeWidth": 4, "interpolate": "catmull-rom", "strokeCap": "round"},
        "encoding": {
          "x": {"field": "x", "type": "quantitative", "scale": {"domain": [-24, 26], "nice": false, "zero": false}, "axis": {"orient": "bottom", "values": [-24, -14, -4, 6, 16, 26], "labelPadding": 14, "labelExpr": "'' + datum.value"}},
          "y": {"field": "y", "type": "quantitative", "scale": {"domain": [-20, 10], "nice": false, "zero": false}, "axis": {"orient": "left", "values": [-20, -10, 0, 10], "labelPadding": 8, "labelExpr": "'' + datum.value"}},
          "detail": {"field": "s"},
          "order": {"field": "o"}
        }
      },
      {
        "data": {"name": "analytic"},
        "mark": {"type": "line", "color": "#eb40eb", "strokeWidth": 4.5, "interpolate": "catmull-rom"},
        "encoding": {"x": {"field": "x", "type": "quantitative"}, "y": {"field": "y", "type": "quantitative"}, "order": {"field": "o"}}
      },
      {
        "data": {"name": "anti"},
        "mark": {"type": "line", "color": "#00ffff", "strokeWidth": 4.5, "interpolate": "catmull-rom", "strokeDash": [11, 6]},
        "encoding": {"x": {"field": "x", "type": "quantitative"}, "y": {"field": "y", "type": "quantitative"}, "order": {"field": "o"}}
      },
      {
        "data": {"values": [{"x": 0, "y": 5}, {"x": 0, "y": -5}, {"x": -10, "y": -10}]},
        "mark": {"type": "point", "shape": "circle", "filled": true, "color": "#ffa21f", "opacity": 1, "size": 95},
        "encoding": {"x": {"field": "x", "type": "quantitative"}, "y": {"field": "y", "type": "quantitative"}}
      },
      {
        "data": {"values": [{"x": 5, "y": 8}]},
        "mark": {"type": "point", "shape": "M-1,-1L1,1M-1,1L1,-1", "filled": false, "color": "#2ee62e", "strokeWidth": 3, "opacity": 1, "size": 80},
        "encoding": {"x": {"field": "x", "type": "quantitative"}, "y": {"field": "y", "type": "quantitative"}}
      },
      {
        "data": {"values": [{"x": -13.7, "y": 5.5, "t": "∂S"}]},
        "mark": {"type": "text", "font": "Liberation Serif", "fontStyle": "italic", "fontSize": 30, "color": "#ff0000", "align": "center", "baseline": "alphabetic"},
        "encoding": {"x": {"field": "x", "type": "quantitative"}, "y": {"field": "y", "type": "quantitative"}, "text": {"field": "t"}}
      },
      {
        "data": {"values": [{"x": -16.0, "y": -12.64, "t": "Beacon"}]},
        "mark": {"type": "text", "font": "Liberation Serif", "fontWeight": "bold", "fontSize": 23, "color": "#ffa21f", "align": "center", "baseline": "alphabetic"},
        "encoding": {"x": {"field": "x", "type": "quantitative"}, "y": {"field": "y", "type": "quantitative"}, "text": {"field": "t"}}
      },
      {
        "data": {"values": [{"x": 24.9, "y": -15.18, "t": "Anti-Crossing"}]},
        "mark": {"type": "text", "font": "Liberation Serif", "fontWeight": "bold", "fontSize": 24, "color": "#00ffff", "align": "right", "baseline": "alphabetic"},
        "encoding": {"x": {"field": "x", "type": "quantitative"}, "y": {"field": "y", "type": "quantitative"}, "text": {"field": "t"}}
      },
      {
        "data": {"values": [{"x": 24.9, "y": -18.57, "t": "Analytic"}]},
        "mark": {"type": "text", "font": "Liberation Serif", "fontWeight": "bold", "fontSize": 24, "color": "#eb40eb", "align": "right", "baseline": "alphabetic"},
        "encoding": {"x": {"field": "x", "type": "quantitative"}, "y": {"field": "y", "type": "quantitative"}, "text": {"field": "t"}}
      },
      {
        "data": {"values": [{"x": 0.17, "y": -28.9, "t": "p"}]},
        "mark": {"type": "text", "font": "Liberation Serif", "fontStyle": "italic", "fontSize": 26, "color": "#262626", "align": "center", "baseline": "alphabetic"},
        "encoding": {"x": {"field": "x", "type": "quantitative"}, "y": {"field": "y", "type": "quantitative"}, "text": {"field": "t"}}
      },
      {
        "data": {"values": [{"x": -32.2, "y": -5.7, "t": "p"}]},
        "mark": {"type": "text", "font": "Liberation Serif", "fontStyle": "italic", "fontSize": 26, "color": "#262626", "align": "center", "baseline": "alphabetic", "angle": 270},
        "encoding": {"x": {"field": "x", "type": "quantitative"}, "y": {"field": "y", "type": "quantitative"}, "text": {"field": "t"}}
      },
      {
        "data": {"values": [{"x": 1.95, "y": -29.5, "t": "x"}, {"x": 34.3, "y": -20.9, "t": "s"}]},
        "mark": {"type": "text", "font": "Liberation Serif", "fontStyle": "italic", "fontSize": 17, "color": "#262626", "align": "center", "baseline": "alphabetic"},
        "encoding": {"x": {"field": "x", "type": "quantitative"}, "y": {"field": "y", "type": "quantitative"}, "text": {"field": "t"}}
      },
      {
        "data": {"values": [{"x": -31.6, "y": -3.7, "t": "y"}]},
        "mark": {"type": "text", "font": "Liberation Serif", "fontStyle": "italic", "fontSize": 17, "color": "#262626", "align": "center", "baseline": "alphabetic", "angle": 270},
        "encoding": {"x": {"field": "x", "type": "quantitative"}, "y": {"field": "y", "type": "quantitative"}, "text": {"field": "t"}}
      },
      {
        "data": {"values": [{"x": 32.9, "y": -20.0, "t": "λ"}]},
        "mark": {"type": "text", "font": "Liberation Serif", "fontSize": 20, "color": "#262626", "align": "center", "baseline": "middle"},
        "encoding": {"x": {"field": "x", "type": "quantitative"}, "y": {"field": "y", "type": "quantitative"}, "text": {"field": "t"}}
      },
      {
        "data": {"values": [{"x": 32.6, "y": -7.8, "t": "λ"}]},
        "mark": {"type": "text", "font": "Liberation Serif", "fontSize": 20, "color": "#262626", "align": "center", "baseline": "middle", "angle": 270},
        "encoding": {"x": {"field": "x", "type": "quantitative"}, "y": {"field": "y", "type": "quantitative"}, "text": {"field": "t"}}
      },
      {
        "data": {"values": [{"x": 33.0, "y": -4.6, "t": "min"}]},
        "mark": {"type": "text", "font": "Liberation Serif", "fontSize": 21, "color": "#262626", "align": "center", "baseline": "middle", "angle": 270},
        "encoding": {"x": {"field": "x", "type": "quantitative"}, "y": {"field": "y", "type": "quantitative"}, "text": {"field": "t"}}
      }
    ]
  }
]
}
